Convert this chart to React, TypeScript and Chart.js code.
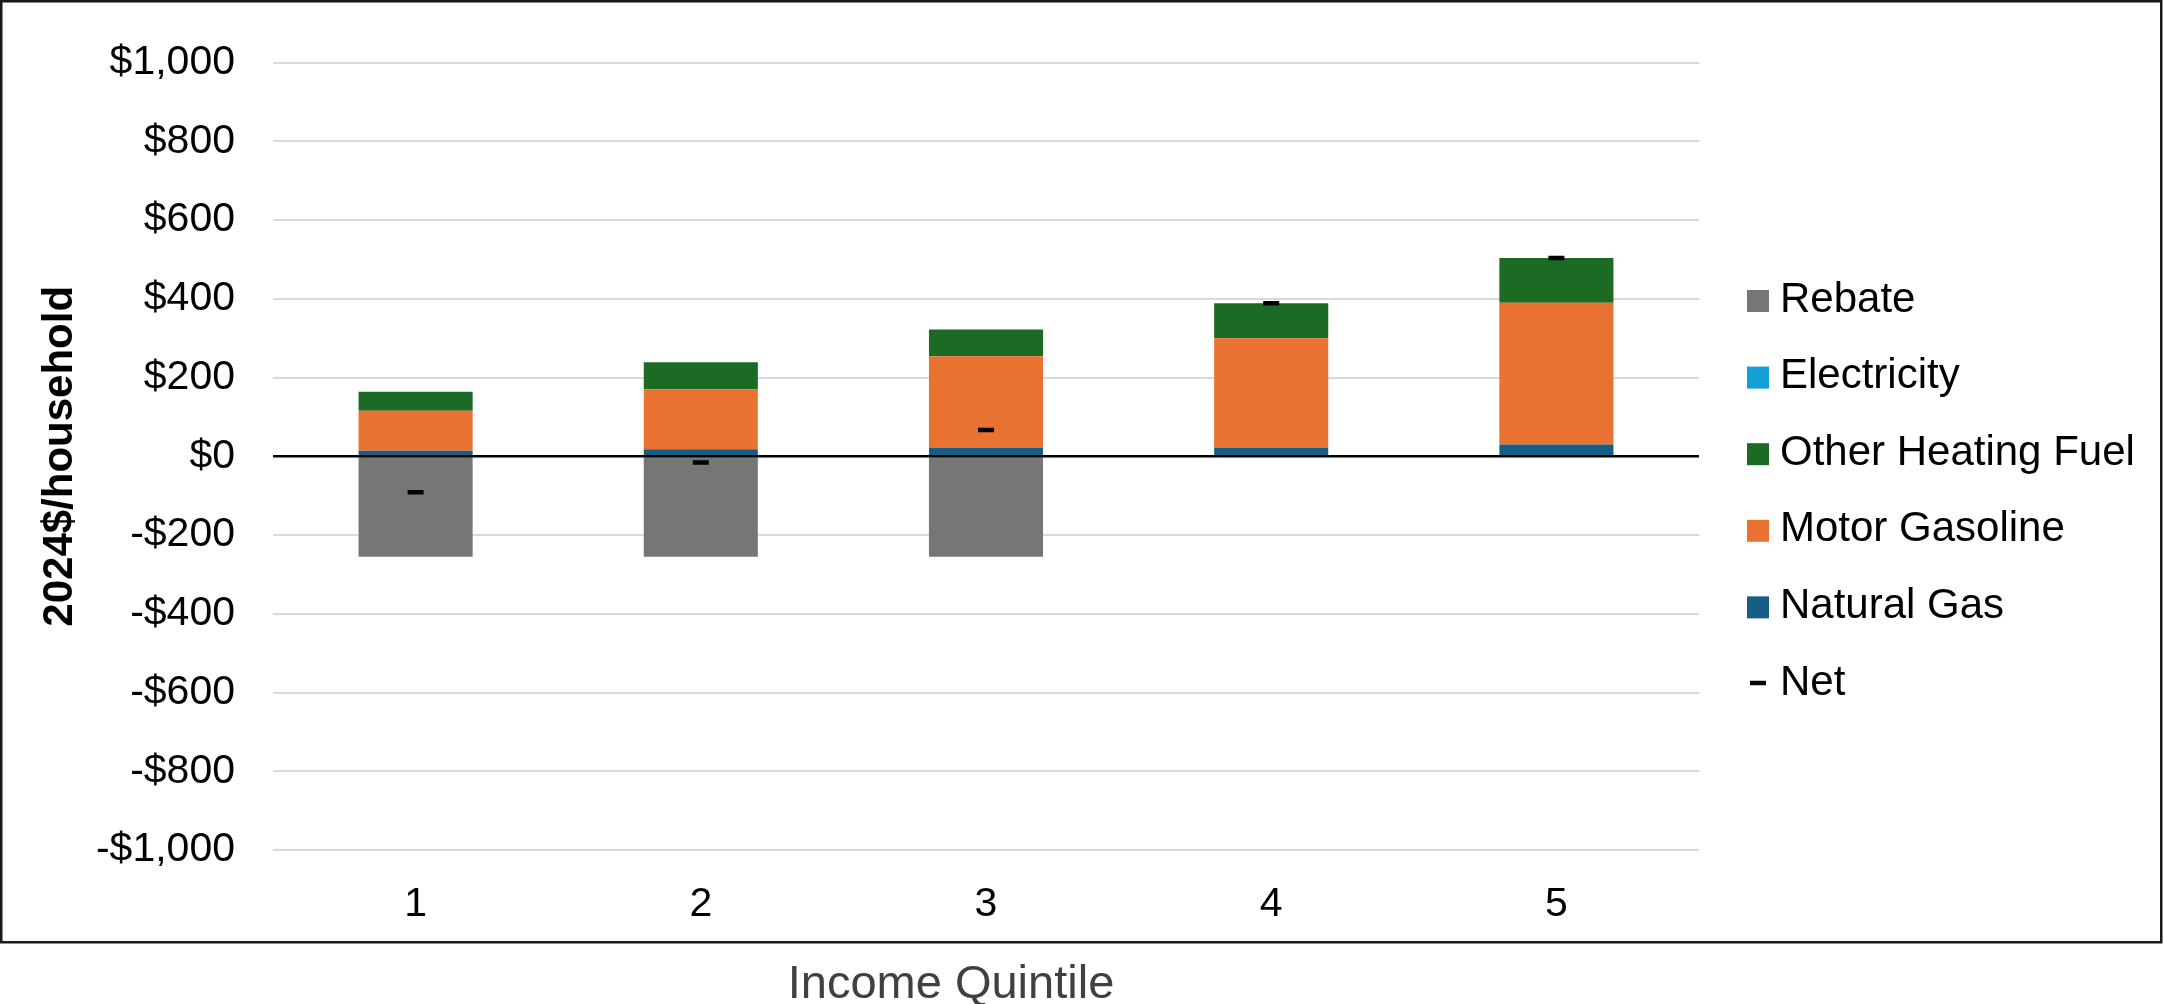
import React, { useEffect, useRef } from 'react';
import { Chart, registerables } from 'chart.js';

Chart.register(...registerables);

// Household cost by income quintile, 2024$
const quintiles = ['1', '2', '3', '4', '5'];
const naturalGas = [14, 18, 22, 22, 30];
const motorGasoline = [102, 152, 232, 278, 360];
const otherHeatingFuel = [48, 69, 68, 89, 114];
const electricity = [0, 0, 0, 0, 0];
const rebate = [-255, -255, -255, 0, 0];
const net = [-91, -16, 67, 389, 504];

const yMin = -1000;
const yMax = 1000;
const yStep = 200;

const legendOrder = ['Rebate', 'Electricity', 'Other Heating Fuel', 'Motor Gasoline', 'Natural Gas', 'Net'];

const FONT = '"Liberation Sans", Arial, Helvetica, sans-serif';

const formatDollars = (v: number) => {
  const abs = Math.abs(v).toLocaleString('en-US');
  return v < 0 ? `-$${abs}` : `$${abs}`;
};

// Black zero line drawn over the bars
const zeroLinePlugin = {
  id: 'zeroLine',
  afterDatasetsDraw(chart: any) {
    const { ctx, chartArea, scales } = chart;
    const y = scales.y.getPixelForValue(0);
    ctx.save();
    ctx.strokeStyle = '#000000';
    ctx.lineWidth = 2.5;
    ctx.beginPath();
    ctx.moveTo(chartArea.left, y);
    ctx.lineTo(chartArea.right, y);
    ctx.stroke();
    ctx.restore();
  },
};

// Legend column on the right, in a fixed order
const sideLegendPlugin = {
  id: 'sideLegend',
  afterDraw(chart: any) {
    const { ctx, chartArea } = chart;
    const boxX = chartArea.right + 48;
    const textX = boxX + 33;
    const firstY = 299;
    const rowStep = 76.6;
    ctx.save();
    ctx.font = `42px ${FONT}`;
    ctx.textBaseline = 'middle';
    ctx.textAlign = 'left';
    legendOrder.forEach((label, i) => {
      const ds = chart.data.datasets.find((d: any) => d.label === label);
      if (!ds) return;
      const y = firstY + i * rowStep;
      if (ds.type === 'line') {
        ctx.strokeStyle = '#000000';
        ctx.lineWidth = 4.5;
        ctx.beginPath();
        ctx.moveTo(boxX + 3, y + 1);
        ctx.lineTo(boxX + 19, y + 1);
        ctx.stroke();
      } else {
        ctx.fillStyle = ds.backgroundColor;
        ctx.fillRect(boxX, y - 9, 22, 22);
      }
      ctx.fillStyle = '#000000';
      ctx.fillText(label, textX, y + 1);
    });
    ctx.restore();
  },
};

// Outer frame and the axis caption beneath it
const framePlugin = {
  id: 'frame',
  afterDraw(chart: any) {
    const { ctx } = chart;
    ctx.save();
    ctx.strokeStyle = '#1a1a1a';
    ctx.lineWidth = 2.5;
    ctx.strokeRect(1.25, 1.25, 2160, 941);
    ctx.fillStyle = '#404040';
    ctx.font = `47px ${FONT}`;
    ctx.textAlign = 'center';
    ctx.textBaseline = 'alphabetic';
    ctx.fillText('Income Quintile', 951, 998);
    ctx.restore();
  },
};

export default function App() {
  const canvasRef = useRef<HTMLCanvasElement | null>(null);

  useEffect(() => {
    const canvas = canvasRef.current;
    if (!canvas) return;

    const chart = new Chart(canvas, {
      type: 'bar',
      data: {
        labels: quintiles,
        datasets: [
          {
            type: 'line',
            label: 'Net',
            data: net,
            stack: 'net',
            showLine: false,
            borderColor: '#000000',
            backgroundColor: '#000000',
            pointStyle: 'line',
            pointRadius: 8,
            pointBorderWidth: 4.5,
            pointHoverRadius: 8,
            order: -1,
          } as any,
          {
            label: 'Natural Gas',
            data: naturalGas,
            backgroundColor: '#165e83',
            stack: 'cost',
          },
          {
            label: 'Electricity',
            data: electricity,
            backgroundColor: '#109fd7',
            stack: 'cost',
          },
          {
            label: 'Motor Gasoline',
            data: motorGasoline,
            backgroundColor: '#e97233',
            stack: 'cost',
          },
          {
            label: 'Other Heating Fuel',
            data: otherHeatingFuel,
            backgroundColor: '#1b6b24',
            stack: 'cost',
          },
          {
            label: 'Rebate',
            data: rebate,
            backgroundColor: '#767676',
            stack: 'cost',
          },
        ],
      },
      options: {
        responsive: false,
        animation: false,
        devicePixelRatio: 1,
        layout: {
          padding: { left: 0, top: 38, right: 464, bottom: 62 },
        },
        datasets: {
          bar: {
            categoryPercentage: 1,
            barPercentage: 0.4,
            borderWidth: 0,
          },
        },
        plugins: {
          legend: { display: false },
          tooltip: { enabled: false },
          title: { display: false },
        },
        scales: {
          x: {
            stacked: true,
            grid: { display: false, drawTicks: false },
            border: { display: false },
            ticks: {
              color: '#000000',
              font: { family: FONT, size: 41 },
              padding: 30,
            },
            afterFit(scale: any) {
              scale.height = 92;
            },
          },
          y: {
            stacked: true,
            min: yMin,
            max: yMax,
            grid: { color: '#d9d9d9', lineWidth: 2, drawTicks: false },
            border: { display: false },
            ticks: {
              stepSize: yStep,
              color: '#000000',
              font: { family: FONT, size: 41 },
              padding: 38,
              callback: (v: any) => formatDollars(Number(v)),
            },
            title: {
              display: true,
              text: '2024$/household',
              color: '#000000',
              font: { family: FONT, size: 42, weight: 'bold' },
              padding: { top: 35, bottom: 0 },
            },
            afterFit(scale: any) {
              scale.width = 273;
            },
          },
        },
      },
      plugins: [zeroLinePlugin, sideLegendPlugin, framePlugin],
    });

    return () => chart.destroy();
  }, []);

  return (
    <div style={{ position: 'absolute', left: 0, top: 0, width: 2163, height: 1004, background: '#ffffff' }}>
      <canvas ref={canvasRef} width={2163} height={1004} style={{ display: 'block', width: 2163, height: 1004 }} />
    </div>
  );
}
